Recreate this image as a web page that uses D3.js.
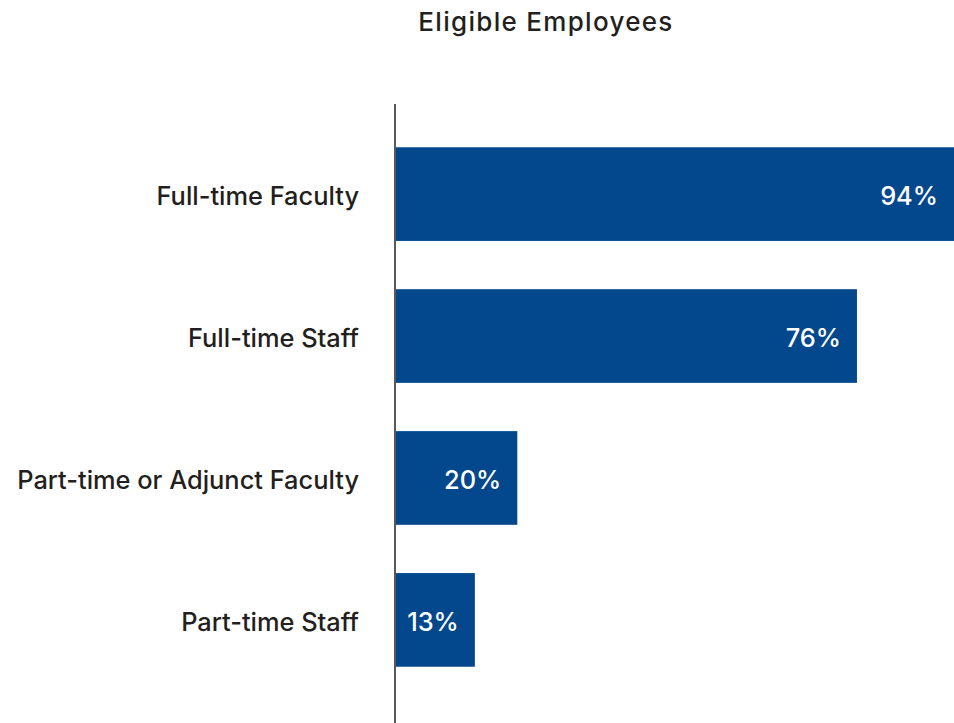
<!DOCTYPE html>
<html>
<head>
<meta charset="utf-8">
<script src="https://cdn.jsdelivr.net/npm/d3@7"></script>
<style>
  body { margin: 0; background: #fff; }
  text { font-family: Inter, "Liberation Sans", Arial, sans-serif; font-weight: 500; }
</style>
</head>
<body>
<svg id="chart" width="954" height="723"></svg>
<script>
"use strict";

var categories = ["Full-time Faculty", "Full-time Staff", "Part-time or Adjunct Faculty", "Part-time Staff"];
var values = [94, 76, 20, 13];
var title = "Eligible Employees";

var config = {
  axisX: 396,
  axisTop: 104,
  barColor: "#03478c",
  textColor: "#231f20"
};

var svg = d3.select("#chart");

// 94% bar runs off the right edge of the frame
var x = d3.scaleLinear()
  .domain([0, 92])
  .range([config.axisX, 954]);

var y = d3.scaleBand()
  .domain(categories)
  .range([99, 715])
  .padding(0.34);

svg.append("text")
  .attr("x", 546)
  .attr("y", 31)
  .attr("text-anchor", "middle")
  .attr("fill", config.textColor)
  .style("font-size", "26px")
  .style("letter-spacing", "1.3px")
  .text(title);

var rows = svg.selectAll("g.row")
  .data(categories)
  .enter().append("g")
  .attr("class", "row");

rows.append("rect")
  .attr("x", x(0))
  .attr("y", function(d) { return y(d); })
  .attr("width", function(d, i) { return x(values[i]) - x(0); })
  .attr("height", y.bandwidth())
  .attr("fill", config.barColor);

rows.append("text")
  .attr("x", 359)
  .attr("y", function(d) { return y(d) + y.bandwidth()/2 + 2; })
  .attr("dy", "0.35em")
  .attr("text-anchor", "end")
  .attr("fill", config.textColor)
  .style("font-size", "25.4px")
  .text(function(d) { return d; });

rows.append("text")
  .attr("x", function(d, i) { return Math.min(x(values[i]), 954) - 16; })
  .attr("y", function(d) { return y(d) + y.bandwidth()/2 + 2; })
  .attr("dy", "0.35em")
  .attr("text-anchor", "end")
  .attr("fill", "#fff")
  .style("font-size", "25.4px")
  .text(function(d, i) { return values[i] + "%"; });

svg.append("line")
  .attr("x1", config.axisX - 1)
  .attr("x2", config.axisX - 1)
  .attr("y1", config.axisTop)
  .attr("y2", 723)
  .attr("stroke", "#595959")
  .attr("stroke-width", 2);
</script>
</body>
</html>
